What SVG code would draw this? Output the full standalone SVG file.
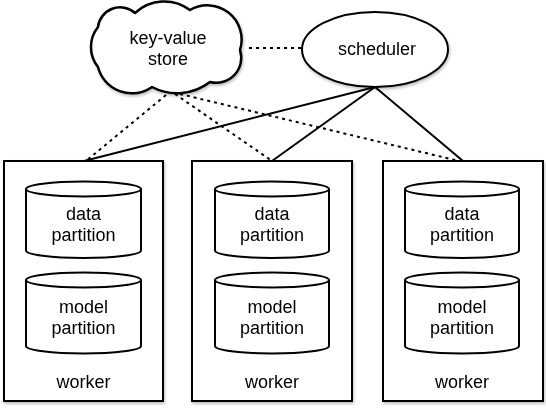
<svg xmlns="http://www.w3.org/2000/svg" width="546" height="410" viewBox="0 0 546 410">
<defs>
<filter id="sh" x="-10%" y="-10%" width="120%" height="120%">
<feGaussianBlur in="SourceAlpha" stdDeviation="1.5" result="b"/>
<feOffset dx="1" dy="1.5" result="o"/>
<feComponentTransfer in="o" result="s"><feFuncA type="linear" slope="0.25"/></feComponentTransfer>
<feMerge><feMergeNode in="s"/><feMergeNode in="SourceGraphic"/></feMerge>
</filter>
</defs>
<style>
.shape{fill:#fff;stroke:#000;stroke-width:2}
.cloud{fill:#fff;stroke:#000;stroke-width:2.5;stroke-linejoin:round}
.cyl{fill:none;stroke:#000;stroke-width:2}
.t{font-family:"Liberation Sans",Arial,sans-serif;font-size:18px;fill:#000;text-anchor:middle}
.solid{stroke:#000;stroke-width:2;fill:none}
.dot{stroke:#000;stroke-width:2;fill:none;stroke-dasharray:3 4}
</style>
<rect width="546" height="410" fill="#fff"/>
<g id="connectors">
<line class="dot" x1="249" y1="48" x2="302" y2="48"/>
<line class="solid" x1="375" y1="87" x2="84" y2="161"/>
<line class="solid" x1="375" y1="87" x2="272" y2="161"/>
<line class="solid" x1="375" y1="87" x2="463" y2="161"/>
<line class="dot" x1="166" y1="95" x2="86" y2="161"/>
<line class="dot" x1="175" y1="94" x2="272" y2="161"/>
<line class="dot" x1="180" y1="94" x2="459" y2="161"/>
</g>
<g id="kvstore" filter="url(#sh)">
<path class="cloud" d="M98,27 A22.3,22.3 0 0 1 135,13 A42.8,42.8 0 0 1 190,10 A34.3,34.3 0 0 1 240,50 A25,25 0 0 1 210,82 A54,54 0 0 1 152,87 A35,35 0 0 1 98,67 A32,32 0 0 1 98,27 Z"/>
<text class="t" x="168" y="44">key-value</text>
<text class="t" x="168" y="65">store</text>
</g>
<g id="scheduler" filter="url(#sh)">
<ellipse class="shape" cx="375" cy="49.5" rx="73" ry="37.5"/>
<text class="t" x="377" y="55">scheduler</text>
</g>
<g id="worker1" filter="url(#sh)">
<rect class="shape" x="4" y="161" width="159" height="240"/>
<path class="shape" d="M26,189 A57.5,7.5 0 0 1 141,189 L141,250.5 A57.5,7.5 0 0 1 26,250.5 Z"/>
<path class="cyl" d="M26,189 A57.5,7.5 0 0 0 141,189"/>
<text class="t" x="83.5" y="220">data</text>
<text class="t" x="83.5" y="241">partition</text>
<path class="shape" d="M26,280 A57.5,7.5 0 0 1 141,280 L141,346 A57.5,7.5 0 0 1 26,346 Z"/>
<path class="cyl" d="M26,280 A57.5,7.5 0 0 0 141,280"/>
<text class="t" x="83.5" y="313">model</text>
<text class="t" x="83.5" y="334">partition</text>
<text class="t" x="83.5" y="388">worker</text>
</g>
<g id="worker2" filter="url(#sh)">
<rect class="shape" x="192" y="161" width="160" height="240"/>
<path class="shape" d="M215,189 A57,7.5 0 0 1 329,189 L329,250.5 A57,7.5 0 0 1 215,250.5 Z"/>
<path class="cyl" d="M215,189 A57,7.5 0 0 0 329,189"/>
<text class="t" x="272" y="220">data</text>
<text class="t" x="272" y="241">partition</text>
<path class="shape" d="M215,280 A57,7.5 0 0 1 329,280 L329,346 A57,7.5 0 0 1 215,346 Z"/>
<path class="cyl" d="M215,280 A57,7.5 0 0 0 329,280"/>
<text class="t" x="272" y="313">model</text>
<text class="t" x="272" y="334">partition</text>
<text class="t" x="272" y="388">worker</text>
</g>
<g id="worker3" filter="url(#sh)">
<rect class="shape" x="383" y="161" width="160" height="240"/>
<path class="shape" d="M405,189 A57,7.5 0 0 1 519,189 L519,250.5 A57,7.5 0 0 1 405,250.5 Z"/>
<path class="cyl" d="M405,189 A57,7.5 0 0 0 519,189"/>
<text class="t" x="462" y="220">data</text>
<text class="t" x="462" y="241">partition</text>
<path class="shape" d="M405,280 A57,7.5 0 0 1 519,280 L519,346 A57,7.5 0 0 1 405,346 Z"/>
<path class="cyl" d="M405,280 A57,7.5 0 0 0 519,280"/>
<text class="t" x="462" y="313">model</text>
<text class="t" x="462" y="334">partition</text>
<text class="t" x="462" y="388">worker</text>
</g>
</svg>
